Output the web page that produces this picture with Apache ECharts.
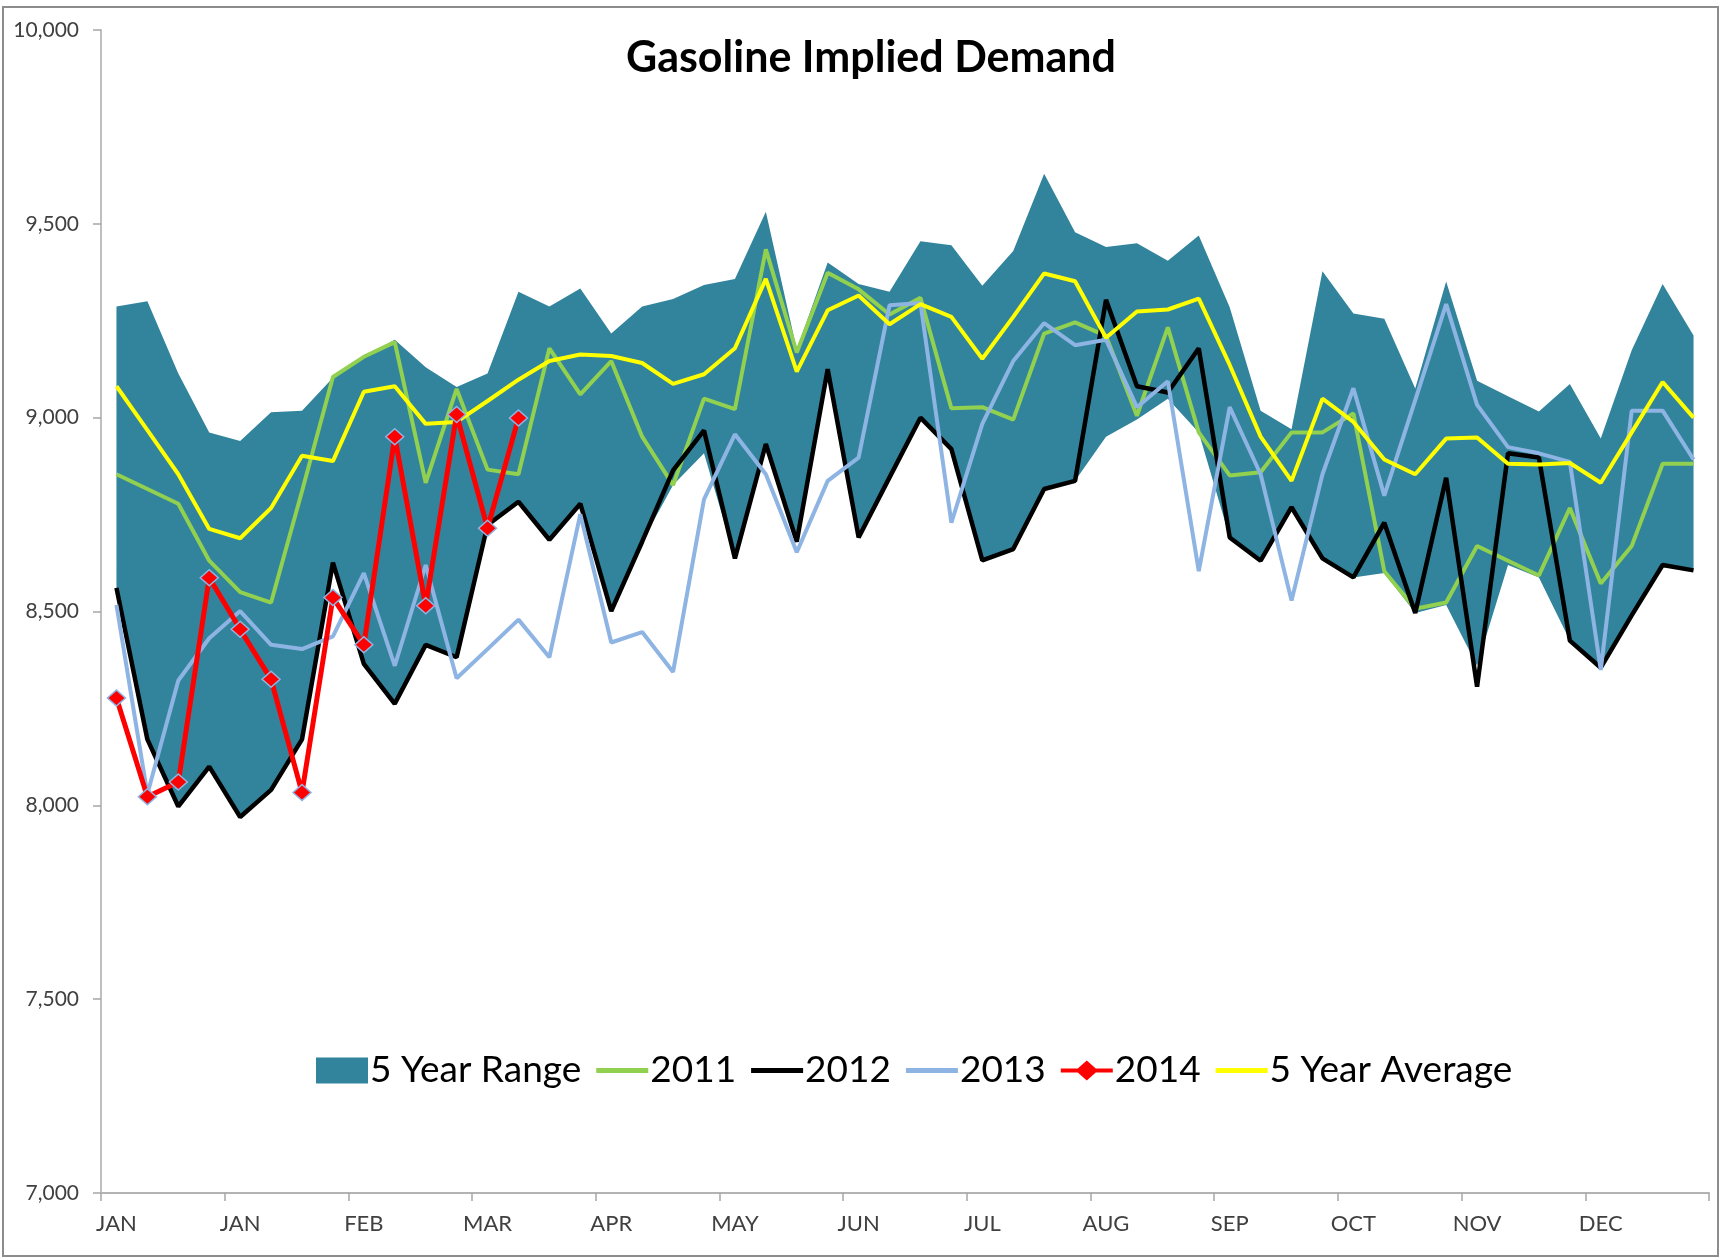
<!DOCTYPE html>
<html>
<head>
<meta charset="utf-8">
<script src="https://cdn.jsdelivr.net/npm/echarts@6/dist/echarts.min.js"></script>
<style>
html,body{margin:0;padding:0;background:#fff;}
#chart{width:1721px;height:1259px;}
</style>
</head>
<body>
<div id="chart"></div>
<script>
// Month tick labels, one every 4 weeks
const tickLabels = ['JAN','JAN','FEB','MAR','APR','MAY','JUN','JUL','AUG','SEP','OCT','NOV','DEC'];
const yTicks = [7000, 7500, 8000, 8500, 9000, 9500, 10000];

const bandUpper = [9287,9300,9114,8962,8940,9014,9018,9103,9157,9201,
  9130,9079,9114,9325,9287,9333,9217,9287,9306,9342,
  9358,9531,9176,9400,9345,9325,9455,9445,9340,9430,
  9629,9478,9440,9450,9405,9470,9285,9018,8970,9378,
  9269,9255,9075,9351,9095,9055,9016,9087,8946,9174,
  9345,9212];
const bandLower = [8561,8170,7997,8100,7970,8040,8170,8626,8365,8262,
  8414,8382,8723,8783,8685,8778,8501,8680,8826,8908,
  8637,8932,8680,9125,8691,8846,9000,8919,8632,8661,
  8816,8837,8951,8995,9049,8962,8691,8631,8769,8637,
  8588,8599,8496,8517,8360,8620,8588,8425,8355,8490,
  8620,8610];
const y2011 = [8854,8816,8778,8631,8550,8523,8810,9105,9157,9195,
  8832,9074,8866,8854,9179,9060,9146,8951,8826,9049,
  9022,9434,9168,9374,9331,9266,9309,9024,9027,8995,
  9217,9246,9211,9005,9233,8962,8851,8859,8962,8962,
  9011,8604,8507,8523,8669,8631,8593,8767,8572,8669,
  8881,8881];
const y2012 = [8561,8170,7997,8100,7970,8040,8170,8626,8365,8262,
  8414,8382,8723,8783,8685,8778,8501,8680,8864,8967,
  8637,8932,8680,9125,8691,8846,9000,8919,8632,8661,
  8816,8837,9304,9081,9065,9179,8691,8631,8769,8637,
  8588,8729,8496,8845,8306,8908,8897,8425,8355,8490,
  8620,8606];
const y2013 = [8517,8029,8322,8431,8501,8414,8403,8436,8599,8360,
  8620,8328,8403,8479,8382,8751,8420,8447,8344,8789,
  8957,8854,8653,8837,8897,9290,9296,8729,8984,9146,
  9244,9187,9201,9027,9094,8604,9027,8854,8528,8854,
  9076,8799,9045,9293,9033,8924,8908,8886,8349,9018,
  9018,8892];
const y2014 = [8277,8022,8060,8587,8454,8325,8033,8536,8414,8951,
  8515,9008,8715,8999];
const avg5 = [9081,8968,8854,8713,8689,8767,8902,8888,9067,9081,
  8984,8989,9043,9098,9146,9163,9159,9141,9087,9112,
  9179,9358,9119,9277,9315,9241,9293,9260,9152,9260,
  9372,9352,9206,9274,9279,9307,9136,8951,8837,9049,
  8989,8892,8854,8946,8949,8881,8879,8883,8832,8962,
  9092,9000];

const weeks = bandUpper.map((_, i) => 'W' + (i + 1));
const bandSpan = bandUpper.map((u, i) => u - bandLower[i]);
const FONT = 'Lato';
const LINE_ICON = 'path://M0,0H52V5H0Z';
const DIAMOND_ICON = 'path://M0,8H17L26,0L35,8H52V12H35L26,20L17,12H0Z';

const chart = echarts.init(document.getElementById('chart'), null, {renderer: 'canvas'});
chart.setOption({
  animation: false,
  backgroundColor: '#ffffff',
  title: {
    text: 'Gasoline Implied Demand',
    left: 866, top: 32, textAlign: 'center',
    textStyle: {fontFamily: FONT, fontWeight: 'bold', fontSize: 43, color: '#000'}
  },
  grid: {left: 101, right: 12, top: 30, bottom: 66, containLabel: false},
  legend: {
    left: 311, top: 1047,
    itemGap: 15, itemWidth: 52, itemHeight: 26,
    symbolKeepAspect: true,
    textStyle: {fontFamily: FONT, fontSize: 37, color: '#000', padding: [0, 0, 0, -3]},
    data: [
      {name: '5 Year Range', icon: 'rect'},
      {name: '2011', icon: LINE_ICON},
      {name: '2012', icon: LINE_ICON},
      {name: '2013', icon: LINE_ICON},
      {name: '2014', icon: DIAMOND_ICON, itemStyle: {borderWidth: 0}},
      {name: '5 Year Average', icon: LINE_ICON}
    ]
  },
  xAxis: {
    type: 'category',
    data: weeks,
    boundaryGap: true,
    axisLine: {show: true, lineStyle: {color: '#b3b3b3', width: 2}},
    axisTick: {show: true, interval: 3, length: 8, lineStyle: {color: '#a6a6a6', width: 1.5}},
    axisLabel: {
      interval: 3, margin: 20,
      fontFamily: FONT, fontSize: 22, color: '#404040',
      formatter: (v, idx) => tickLabels[Math.floor(idx / 4)]
    },
    splitLine: {show: false}
  },
  yAxis: {
    type: 'value',
    min: yTicks[0], max: yTicks[yTicks.length - 1], interval: 500,
    axisLine: {show: true, lineStyle: {color: '#bfbfbf', width: 2}},
    axisTick: {show: true, length: 8, lineStyle: {color: '#a6a6a6', width: 1.5}},
    axisLabel: {
      margin: 22, fontFamily: FONT, fontSize: 21, color: '#404040',
      formatter: v => v.toLocaleString('en-US')
    },
    splitLine: {show: false}
  },
  series: [
    {
      name: 'rangeLow', type: 'line', data: bandLower, stack: 'range',
      symbol: 'none', lineStyle: {width: 0, opacity: 0}, silent: true, z: 1
    },
    {
      name: '5 Year Range', type: 'line', data: bandSpan, stack: 'range',
      symbol: 'none', lineStyle: {width: 0, opacity: 0},
      itemStyle: {color: '#31849b'},
      areaStyle: {color: '#31849b', opacity: 1}, z: 1
    },
    {
      name: '2011', type: 'line', data: y2011, symbol: 'none',
      itemStyle: {color: '#92d050'}, lineStyle: {color: '#92d050', width: 4}, z: 3
    },
    {
      name: '2012', type: 'line', data: y2012, symbol: 'none',
      itemStyle: {color: '#000000'}, lineStyle: {color: '#000000', width: 4.5}, z: 3
    },
    {
      name: '2013', type: 'line', data: y2013, symbol: 'none',
      itemStyle: {color: '#8eb4e3'}, lineStyle: {color: '#8eb4e3', width: 4}, z: 3
    },
    {
      name: '5 Year Average', type: 'line', data: avg5, symbol: 'none',
      itemStyle: {color: '#ffff00'}, lineStyle: {color: '#ffff00', width: 4}, z: 4
    },
    {
      name: '2014', type: 'line', data: y2014,
      symbol: 'diamond', symbolSize: [18, 16], showAllSymbol: true,
      itemStyle: {color: '#ff0000', borderColor: '#8eb4e3', borderWidth: 1.5},
      lineStyle: {color: '#ff0000', width: 5}, z: 5
    }
  ],
  graphic: [{
    type: 'rect', silent: true, z: 100,
    shape: {x: 3, y: 7, width: 1715, height: 1249},
    style: {fill: 'none', stroke: '#8c8c8c', lineWidth: 2}
  }]
});
</script>
</body>
</html>
